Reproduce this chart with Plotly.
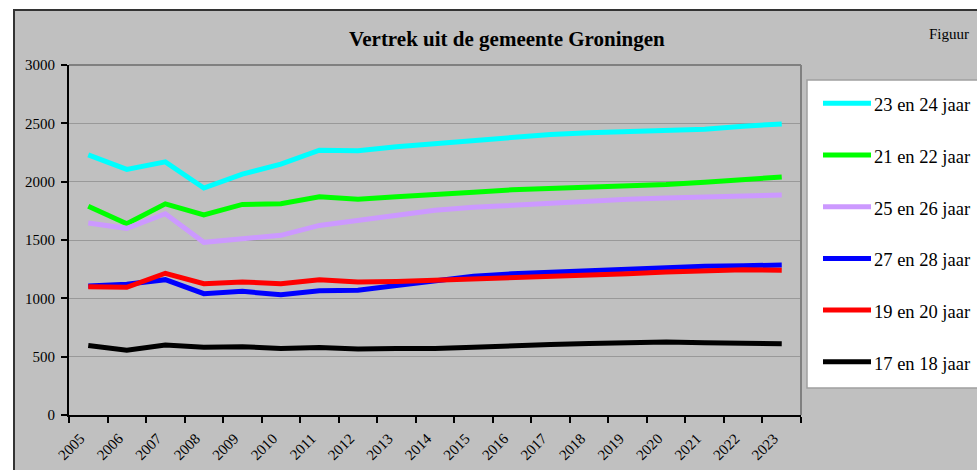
import plotly.graph_objects as go

# Data
years = [str(y) for y in range(2005, 2024)]

leeftijd_23_24 = [2230, 2105, 2170, 1945, 2065, 2150, 2270, 2265, 2300, 2325,
                  2360, 2385, 2405, 2420, 2430, 2435, 2450, 2475, 2495]
leeftijd_21_22 = [1790, 1640, 1810, 1715, 1805, 1810, 1870, 1850, 1870, 1895,
                  1910, 1930, 1940, 1945, 1960, 1975, 1995, 2015, 2040]
leeftijd_25_26 = [1645, 1600, 1725, 1480, 1510, 1540, 1625, 1670, 1715, 1755,
                  1780, 1800, 1820, 1835, 1850, 1860, 1870, 1875, 1885]
leeftijd_27_28 = [1105, 1120, 1160, 1040, 1060, 1030, 1065, 1070, 1110, 1150,
                  1190, 1210, 1225, 1240, 1250, 1265, 1275, 1280, 1285]
leeftijd_19_20 = [1100, 1095, 1215, 1125, 1140, 1125, 1160, 1140, 1145, 1155,
                  1165, 1170, 1180, 1195, 1210, 1225, 1240, 1245, 1240]
leeftijd_17_18 = [595, 555, 600, 580, 585, 570, 578, 566, 569, 569,
                  580, 595, 605, 612, 620, 625, 620, 615, 610]

series_names = ["23 en 24 jaar", "21 en 22 jaar", "25 en 26 jaar",
                "27 en 28 jaar", "19 en 20 jaar", "17 en 18 jaar"]
series_values = [leeftijd_23_24, leeftijd_21_22, leeftijd_25_26,
                 leeftijd_27_28, leeftijd_19_20, leeftijd_17_18]
series_colors = ["#00ffff", "#00ff00", "#cc99ff", "#0000ff", "#ff0000", "#000000"]

y_ticks = [0, 500, 1000, 1500, 2000, 2500, 3000]

FONT = "Liberation Serif, Times New Roman, serif"

W, H = 977, 470
# plot area in pixels
L, R, T, B = 69, 801, 65, 415


def px(x):
    return (x - L) / (R - L)


def py(y):
    return (B - y) / (B - T)


fig = go.Figure()

for name, vals, col in zip(series_names, series_values, series_colors):
    fig.add_trace(go.Scatter(
        x=years, y=vals, mode="lines", name=name,
        line=dict(color=col, width=5),
        showlegend=False,
    ))

shapes = [
    # grey chart area
    dict(type="rect", xref="paper", yref="paper", layer="below",
         x0=px(14), x1=px(990), y0=py(485), y1=py(10),
         fillcolor="#c0c0c0", line=dict(color="#333333", width=2)),
    # grey top / right border of plot area
    dict(type="line", xref="paper", yref="paper", layer="above",
         x0=0, x1=1, y0=1, y1=1, line=dict(color="#808080", width=2)),
    dict(type="line", xref="paper", yref="paper", layer="above",
         x0=1, x1=1, y0=0, y1=1, line=dict(color="#808080", width=2)),
    # legend box
    dict(type="rect", xref="paper", yref="paper", layer="below",
         x0=px(807), x1=px(995), y0=py(388), y1=py(80),
         fillcolor="white", line=dict(color="#a0a0a0", width=1.5)),
]

annotations = [
    dict(text="<b>Vertrek uit de gemeente Groningen</b>", xref="paper", yref="paper",
         x=px(507), y=py(39), xanchor="center", yanchor="middle", showarrow=False,
         font=dict(family=FONT, size=21, color="black")),
    dict(text="Figuur", xref="paper", yref="paper",
         x=px(927), y=py(34), xanchor="left", yanchor="middle", showarrow=False,
         font=dict(family=FONT, size=15, color="black")),
]

# hand-drawn legend, Excel style
for i, (name, col) in enumerate(zip(series_names, series_colors)):
    ly = 103.3 + i * 51.7
    shapes.append(dict(type="line", xref="paper", yref="paper", layer="above",
                       x0=px(823), x1=px(871), y0=py(ly), y1=py(ly),
                       line=dict(color=col, width=5)))
    annotations.append(dict(text=name, xref="paper", yref="paper",
                            x=px(872), y=py(ly + 2), xanchor="left", yanchor="middle",
                            showarrow=False,
                            font=dict(family=FONT, size=18.5, color="black")))

fig.update_layout(
    width=W, height=H,
    margin=dict(l=L, r=W - R, t=T, b=H - B, pad=0),
    paper_bgcolor="white",
    plot_bgcolor="#ffff99",
    font=dict(family=FONT, size=15, color="black"),
    showlegend=False,
    shapes=shapes,
    annotations=annotations,
    xaxis=dict(
        type="category",
        range=[-0.5, len(years) - 0.5],
        automargin=False,
        tickson="boundaries",
        ticks="outside", ticklen=6, tickwidth=1.5, tickcolor="black",
        tickangle=-45,
        ticklabelstandoff=7, ticklabelshift=-8,
        tickfont=dict(family=FONT, size=15),
        showgrid=False,
        showline=True, linecolor="black", linewidth=2,
        zeroline=False,
    ),
    yaxis=dict(
        range=[0, 3000],
        automargin=False,
        tickvals=y_ticks,
        ticks="outside", ticklen=6, tickwidth=1.5, tickcolor="black",
        ticklabelstandoff=3,
        tickfont=dict(family=FONT, size=15),
        showgrid=True, gridcolor="#999999", gridwidth=1,
        showline=True, linecolor="black", linewidth=2,
        zeroline=False,
    ),
)

# drop the default 8px body margin so the figure fills the window
fig.write_html("out.html", config={"displayModeBar": False},
               post_script="document.body.style.margin = '0';")
